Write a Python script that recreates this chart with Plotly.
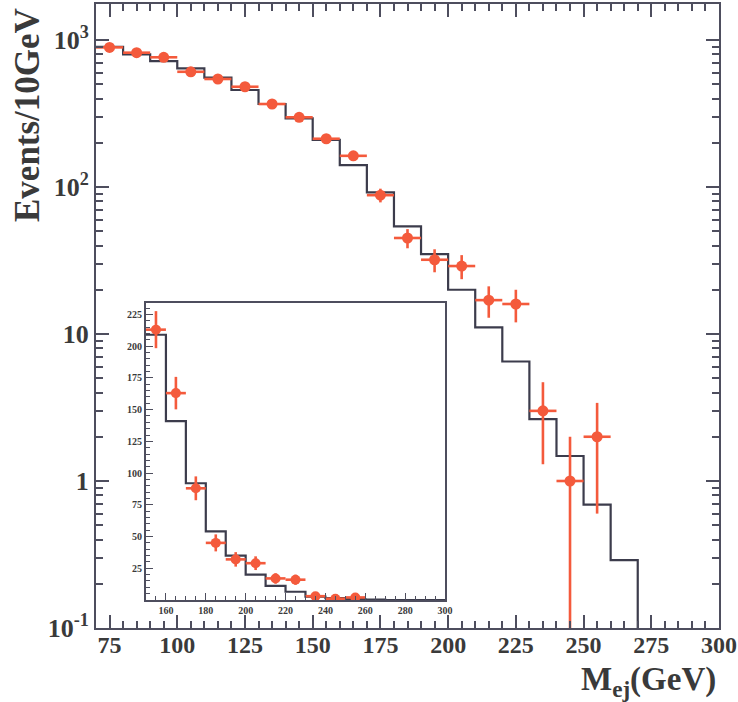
import plotly.graph_objects as go

# ---- data ----
centers = [75, 85, 95, 105, 115, 125, 135, 145, 155, 165, 175, 185, 195, 205, 215, 225, 235, 245, 255]
counts = [891, 820, 763, 608, 543, 481, 367, 298, 213, 163, 88, 45, 32, 29, 17, 16, 3, 1, 2]
count_err = [29.8, 28.6, 27.6, 24.7, 23.3, 21.9, 19.2, 17.3, 14.6, 12.8, 9.4, 6.7, 5.7, 5.4, 4.1, 4.0, 1.7, 1.0, 1.4]
bin_half = [5] * len(centers)

hist_lo = [70, 80, 90, 100, 110, 120, 130, 140, 150, 160, 170, 180, 190, 200, 210, 220, 230, 240, 250, 260]
hist_vals = [900, 798, 719, 642, 554, 457, 367, 293, 209, 141, 92, 54, 35, 20, 11.1, 6.5, 2.64, 1.48, 0.69, 0.29]
hist_end = 270

x_ticks = [75, 100, 125, 150, 175, 200, 225, 250, 275, 300]
y_ticks = [0.1, 1, 10, 100, 1000]
y_ticktext = ["10<sup>-1</sup>", "1", "10", "10<sup>2</sup>", "10<sup>3</sup>"]

inset_start = 150
inset_x_ticks = [160, 180, 200, 220, 240, 260, 280, 300]
inset_y_ticks = [25, 50, 75, 100, 125, 150, 175, 200, 225]

# ---- styling ----
RED = "#f45a3c"
LINE = "#3c3c4c"
AX = "#4e4e5e"
TXT = "#3a3a3a"
FONT = "Liberation Serif"

fig = go.Figure()

# main histogram (log)
hx = hist_lo + [hist_end]
hy = hist_vals + [1e-4]
fig.add_trace(go.Scatter(x=hx, y=hy, mode="lines", line=dict(shape="hv", color=LINE, width=2.2),
                         xaxis="x", yaxis="y", showlegend=False, hoverinfo="skip"))

# main data points
fig.add_trace(go.Scatter(
    x=centers, y=counts, mode="markers",
    marker=dict(color=RED, size=11),
    error_x=dict(type="data", array=bin_half, color=RED, thickness=2.6, width=0),
    error_y=dict(type="data", array=count_err, color=RED, thickness=2.6, width=0),
    xaxis="x", yaxis="y", showlegend=False))

# inset histogram (linear)
i0 = hist_lo.index(inset_start)
ihx = hist_lo[i0:] + [hist_end, 300]
ihy = hist_vals[i0:] + [0, 0]
fig.add_trace(go.Scatter(x=ihx, y=ihy, mode="lines", line=dict(shape="hv", color=LINE, width=2.2),
                         xaxis="x2", yaxis="y2", showlegend=False, hoverinfo="skip"))

j0 = [c > inset_start for c in centers].index(True)
fig.add_trace(go.Scatter(
    x=centers[j0:], y=counts[j0:], mode="markers",
    marker=dict(color=RED, size=10),
    error_x=dict(type="data", array=bin_half[j0:], color=RED, thickness=2.6, width=0),
    error_y=dict(type="data", array=count_err[j0:], color=RED, thickness=2.6, width=0),
    xaxis="x2", yaxis="y2", showlegend=False))

L, R, T, B = 96, 19, 4, 74
W, H = 738, 702
pw, ph = W - L - R, H - T - B

def dx(px):
    return (px - L) / pw

def dy(py):
    return (H - B - py) / ph

fig.update_layout(
    width=W, height=H,
    margin=dict(l=L, r=R, t=T, b=B),
    paper_bgcolor="white", plot_bgcolor="white",
    xaxis=dict(range=[70, 300], tickvals=x_ticks, ticks="inside", ticklen=13, tickwidth=1.5,
               tickcolor=AX, showline=True, linecolor=AX, linewidth=2, mirror="ticks",
               showgrid=False, zeroline=False, automargin=False, ticklabelstandoff=-6,
               minor=dict(ticks="inside", ticklen=7, dtick=5, tickcolor=AX, tickwidth=1.5, showgrid=False),
               tickfont=dict(family=FONT, size=24, color=TXT, weight="bold")),
    yaxis=dict(type="log", range=[-1, 3.245], tickvals=y_ticks, ticktext=y_ticktext,
               ticks="inside", ticklen=13, tickwidth=1.5, tickcolor=AX,
               showline=True, linecolor=AX, linewidth=2, mirror="ticks",
               showgrid=False, zeroline=False, automargin=False,
               minor=dict(ticks="inside", ticklen=7, dtick="D1", tickcolor=AX, tickwidth=1.5, showgrid=False),
               tickfont=dict(family=FONT, size=26, color=TXT, weight="bold")),
    xaxis2=dict(domain=[dx(146), dx(445)], anchor="y2", range=[150, 300], tickvals=inset_x_ticks,
                ticks="inside", ticklen=7, tickwidth=1.2, tickcolor=AX,
                showline=True, linecolor=AX, linewidth=2, mirror=True,
                showgrid=False, zeroline=False, automargin=False,
                minor=dict(ticks="inside", ticklen=4, dtick=5, tickcolor=AX, tickwidth=1.2, showgrid=False),
                tickfont=dict(family=FONT, size=10, color=TXT, weight="bold")),
    yaxis2=dict(domain=[dy(600), dy(303)], anchor="x2", range=[0, 234], tickvals=inset_y_ticks,
                ticks="inside", ticklen=7, tickwidth=1.2, tickcolor=AX,
                showline=True, linecolor=AX, linewidth=2, mirror=True,
                showgrid=False, zeroline=False, automargin=False,
                minor=dict(ticks="inside", ticklen=4, dtick=5, tickcolor=AX, tickwidth=1.2, showgrid=False),
                tickfont=dict(family=FONT, size=10, color=TXT, weight="bold")),
    annotations=[
        dict(text="<b>Events/10GeV</b>", xref="paper", yref="paper", x=dx(27), y=dy(115),
             textangle=-90, showarrow=False, xanchor="center", yanchor="middle",
             font=dict(family=FONT, size=35, color=TXT)),
        dict(text="<b>M<sub>ej</sub>(GeV)</b>", xref="paper", yref="paper", x=dx(718), y=dy(681),
             showarrow=False, xanchor="right", yanchor="middle",
             font=dict(family=FONT, size=33, color=TXT)),
    ],
)

fig.write_html("out.html", config={"displayModeBar": False},
               post_script="document.body.style.margin='0';document.body.style.overflow='hidden';")
